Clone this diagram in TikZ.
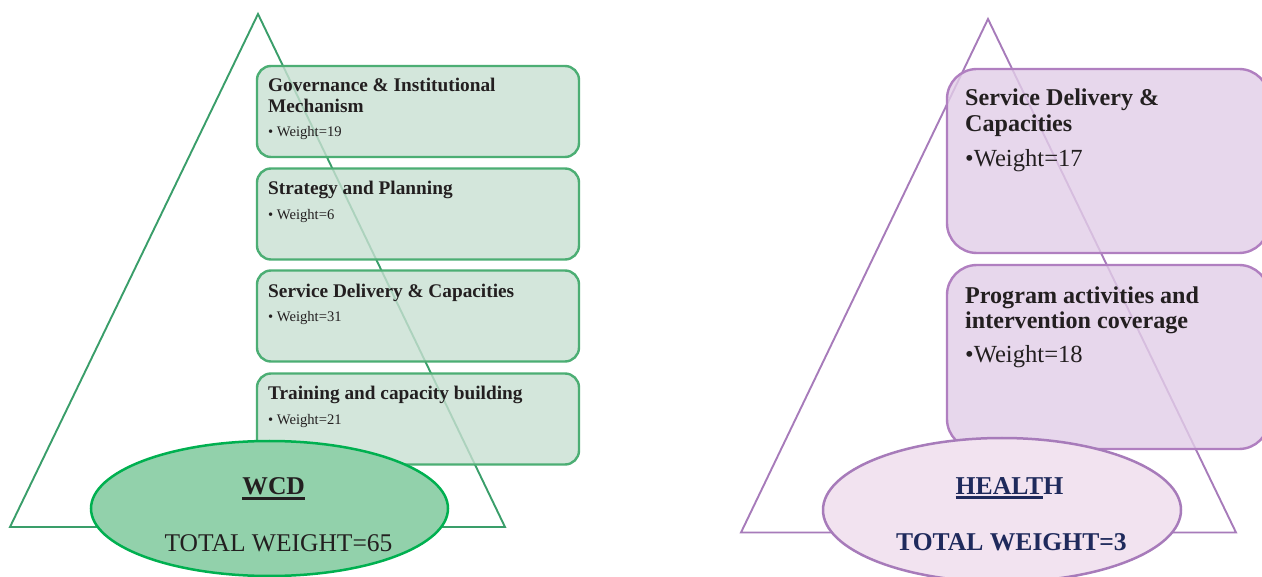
\documentclass[tikz,border=0pt]{standalone}
\usepackage{fontspec}
\setmainfont{Liberation Serif}
\usetikzlibrary{shapes.geometric}
% WCD palette
\definecolor{wcdtri}{RGB}{58,158,106}
\definecolor{wcdboxline}{RGB}{76,174,116}
\definecolor{wcdboxfill}{RGB}{201,224,210}
\definecolor{wcdellfill}{RGB}{146,209,171}
\definecolor{wcdellline}{RGB}{0,176,80}
% HEALTH palette
\definecolor{heatri}{RGB}{167,123,186}
\definecolor{heaboxline}{RGB}{176,127,192}
\definecolor{heaboxfill}{RGB}{226,206,232}
\definecolor{heaellfill}{RGB}{242,227,240}
\definecolor{heatext}{RGB}{31,42,92}
\definecolor{bodytext}{RGB}{35,31,32}
% heavy underline used for the ellipse captions
\newcommand\thickul[1]{\leavevmode\vtop{\hbox{#1}\kern2.2pt\hrule height 3pt}}
\tikzset{
  tri/.style={line width=1.9pt, line join=miter},
  wcdbox/.style={draw=wcdboxline, line width=2.4pt, fill=wcdboxfill, fill opacity=0.8,
     rounded corners=14pt, minimum width=322pt, minimum height=91pt, inner sep=0pt},
  heabox/.style={draw=heaboxline, line width=2.4pt, fill=heaboxfill, fill opacity=0.8,
     rounded corners=30pt, minimum width=322pt, minimum height=184pt, inner sep=0pt},
  wcdtitle/.style={anchor=base west, inner sep=0pt, align=left, text=bodytext,
     font=\bfseries\fontsize{19.3}{20.5}\selectfont},
  wcditem/.style={anchor=base west, inner sep=0pt, text=bodytext,
     font=\fontsize{14.6}{16}\selectfont},
  heatitle/.style={anchor=base west, inner sep=0pt, align=left, text=bodytext,
     font=\bfseries\fontsize{24.1}{25.5}\selectfont},
  heaitem/.style={anchor=base west, inner sep=0pt, text=bodytext,
     font=\fontsize{24.6}{26}\selectfont},
  ell/.style={ellipse, line width=2.5pt, inner sep=0pt},
}
\begin{document}
\begin{tikzpicture}[x=1pt,y=-1pt]
\useasboundingbox (0,0) rectangle (1262,577);
\fill[white] (0,0) rectangle (1262,577);

% ---------------- WCD pyramid ----------------
\coordinate (wA) at (258,14);
\coordinate (wB) at (505,527);
\coordinate (wC) at (10,527);
\draw[tri, draw=wcdtri] (wA) -- (wB) -- (wC) -- cycle;

\node[wcdbox] (w1) at (418,111.5) {};
\node[wcdbox] (w2) at (418,214) {};
\node[wcdbox] (w3) at (418,316) {};
\node[wcdbox] (w4) at (418,419) {};

% multi-line titles are placed by the baseline of their last line
\node[wcdtitle] (w1t) at (268,112.5) {Governance \& Institutional\\Mechanism};
\node[wcditem]  (w1i) at (268,136.5) {\textbullet\ Weight=19};
\node[wcdtitle] (w2t) at (268,195) {Strategy and Planning};
\node[wcditem]  (w2i) at (268,219.5) {\textbullet\ Weight=6};
\node[wcdtitle] (w3t) at (268,298) {Service Delivery \& Capacities};
\node[wcditem]  (w3i) at (268,321.5) {\textbullet\ Weight=31};
\node[wcdtitle] (w4t) at (268,400) {Training and capacity building};
\node[wcditem]  (w4i) at (268,424.5) {\textbullet\ Weight=21};

\node[ell, draw=wcdellline, fill=wcdellfill, minimum width=357pt, minimum height=135pt] (wE) at (269.5,508.5) {};
\node[anchor=base, inner sep=0pt, text=bodytext, font=\bfseries\fontsize{25.6}{28}\selectfont] (wEt) at (273.7,494) {\thickul{WCD}};
\node[anchor=base, inner sep=0pt, text=bodytext, font=\fontsize{25.5}{28}\selectfont] (wEw) at (278.5,551) {TOTAL WEIGHT=65};

% ---------------- HEALTH pyramid ----------------
\coordinate (hA) at (988,19);
\coordinate (hB) at (1236,532.5);
\coordinate (hC) at (741,532.5);
\draw[tri, draw=heatri] (hA) -- (hB) -- (hC) -- cycle;

\node[heabox] (h1) at (1108,161) {};
\node[heabox] (h2) at (1108,357) {};

\node[heatitle] (h1t) at (965,131.5) {Service Delivery \&\\Capacities};
\node[heaitem]  (h1i) at (965,167) {\textbullet Weight=17};
\node[heatitle] (h2t) at (965,329) {Program activities and\\intervention coverage};
\node[heaitem]  (h2i) at (965,363) {\textbullet Weight=18};

\node[ell, draw=heatri, fill=heaellfill, minimum width=358pt, minimum height=144pt] (hE) at (1002,510) {};
\node[anchor=base, inner sep=0pt, text=heatext, font=\bfseries\fontsize{25.7}{28}\selectfont] (hEt) at (1009.5,494) {\thickul{HEALT}H};
\node[anchor=base, inner sep=0pt, text=heatext, font=\bfseries\fontsize{25.6}{28}\selectfont] (hEw) at (1011.5,550) {TOTAL WEIGHT=3};
\end{tikzpicture}
\end{document}
